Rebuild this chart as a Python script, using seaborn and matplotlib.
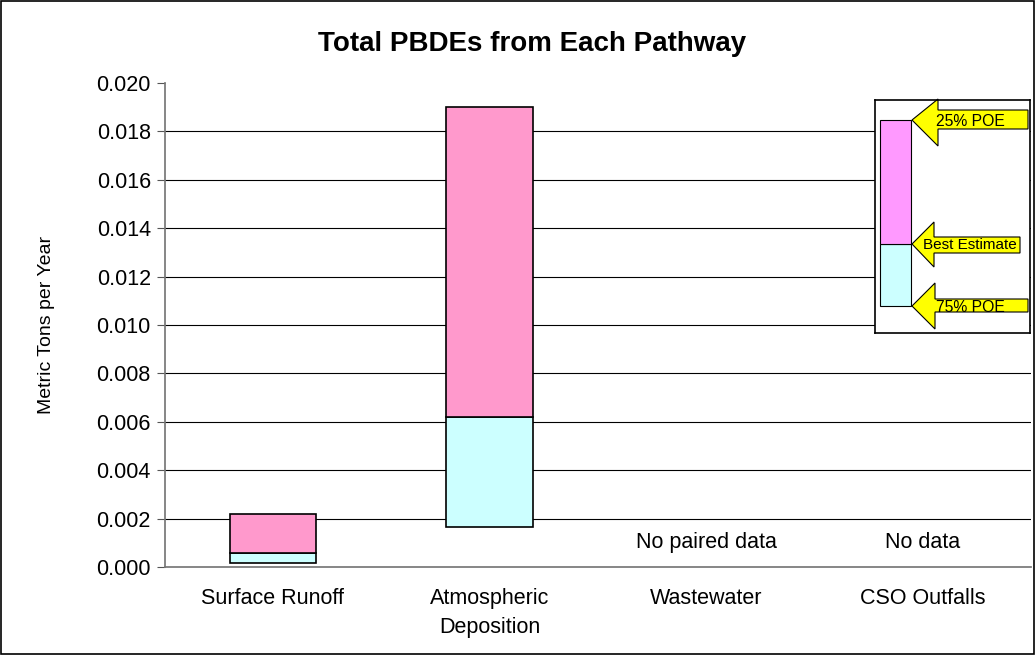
import numpy as np
import pandas as pd
import seaborn as sns
import matplotlib.pyplot as plt
from matplotlib.patches import Rectangle, Polygon

# data (metric tons per year)
pathways = ['Surface Runoff', 'Atmospheric\nDeposition', 'Wastewater', 'CSO Outfalls']
poe75 = [0.00017, 0.00165, np.nan, np.nan]
best = [0.00058, 0.0062, np.nan, np.nan]
poe25 = [0.0022, 0.0190, np.nan, np.nan]
notes = ['', '', 'No paired data', 'No data']

sns.set_theme(style='white')
plt.rcParams['font.family'] = ['Liberation Sans', 'DejaVu Sans']
plt.rcParams['text.color'] = 'black'
plt.rcParams['xtick.color'] = 'black'
plt.rcParams['ytick.color'] = 'black'
plt.rcParams['axes.labelcolor'] = 'black'

fig = plt.figure(figsize=(10.36, 6.55), dpi=100)
ax = fig.add_axes([0.159, 0.1344, 0.836, 0.7389])

low = pd.DataFrame({'Pathway': pathways, 'h': np.array(best) - np.array(poe75)})
high = pd.DataFrame({'Pathway': pathways, 'h': np.array(poe25) - np.array(best)})

sns.barplot(data=low, x='Pathway', y='h', color='#CCFFFF', edgecolor='black',
            linewidth=1.2, width=0.4, saturation=1, ax=ax, zorder=3)
n0 = len(ax.patches)
sns.barplot(data=high, x='Pathway', y='h', color='#FF99CC', edgecolor='black',
            linewidth=1.2, width=0.4, saturation=1, ax=ax, zorder=3)
# shift the floating segments up to their bottoms
for p in ax.patches[:n0]:
    k = int(round(p.get_x() + p.get_width() / 2))
    if not np.isnan(poe75[k]):
        p.set_y(poe75[k])
for p in ax.patches[n0:]:
    k = int(round(p.get_x() + p.get_width() / 2))
    if not np.isnan(best[k]):
        p.set_y(best[k])

for i, t in enumerate(notes):
    if t:
        ax.text(i, 0.00103, t, ha='center', va='center', fontsize=15.5)

ax.set_ylim(0, 0.020)
ax.set_xlim(-0.5, 3.5)
ax.set_yticks(np.arange(0, 0.0201, 0.002))
ax.set_yticklabels([f'{v:.3f}' for v in np.arange(0, 0.0201, 0.002)], fontsize=15.5)
for v in np.arange(0.002, 0.0181, 0.002):
    ax.axhline(v, color='black', lw=0.8, zorder=1)
ax.set_xticks(range(4))
ax.set_xticklabels(pathways, fontsize=15.5, linespacing=1.5)
ax.set_xticks([-0.5, 0.5, 1.5, 2.5, 3.5], minor=True)
ax.tick_params(axis='x', which='major', length=0, pad=15)
ax.tick_params(axis='x', which='minor', length=6, width=0.8, color='#555555', direction='out')
ax.tick_params(axis='y', length=6, width=0.8, color='#555555', direction='out', left=True, pad=4)
for s in ['top', 'right']:
    ax.spines[s].set_visible(False)
ax.spines['left'].set_color('#777777')
ax.spines['bottom'].set_color('#777777')
ax.set_xlabel('')
ax.set_ylabel('Metric Tons per Year', fontsize=14, labelpad=30)
fig.text(0.514, 0.933, 'Total PBDEs from Each Pathway', ha='center', va='center',
         fontsize=20, fontweight='bold')

# legend graphic drawn in pixel-like coordinates
lg = fig.add_axes([875 / 1036, 1 - 333 / 655, 155 / 1036, 233 / 655])
lg.set_xlim(0, 155)
lg.set_ylim(233, 0)
lg.set_xticks([])
lg.set_yticks([])
lg.set_facecolor('white')
for s in lg.spines.values():
    s.set_color('black')
    s.set_linewidth(1.2)
lg.add_patch(Rectangle((5, 144), 31, 62, facecolor='#CCFFFF', edgecolor='black', lw=0.8))
lg.add_patch(Rectangle((5, 20), 31, 124, facecolor='#FF99FF', edgecolor='black', lw=0.8))
arrows = [
    (20, 63, -1, 46, 10, 29, 153, '25% POE', 11.3),
    (144, 59, 122, 167, 137, 153, 145, 'Best Estimate', 11),
    (206, 60, 183, 229, 199, 212, 153, '75% POE', 11.3),
]
for tip, back, htop, hbot, stop, sbot, right, label, fs in arrows:
    pts = [(37, tip), (back, htop), (back, stop), (right, stop),
           (right, sbot), (back, sbot), (back, hbot)]
    lg.add_patch(Polygon(pts, closed=True, facecolor='#FFFF00', edgecolor='black',
                         lw=0.8, clip_on=False))
    lg.text(95, tip + 1, label, ha='center', va='center', fontsize=fs)

fig.patches.append(Rectangle((0.001, 0.001), 0.997, 0.997, transform=fig.transFigure,
                             fill=False, edgecolor='black', lw=1.2))
fig.savefig('out.png', dpi=100)
